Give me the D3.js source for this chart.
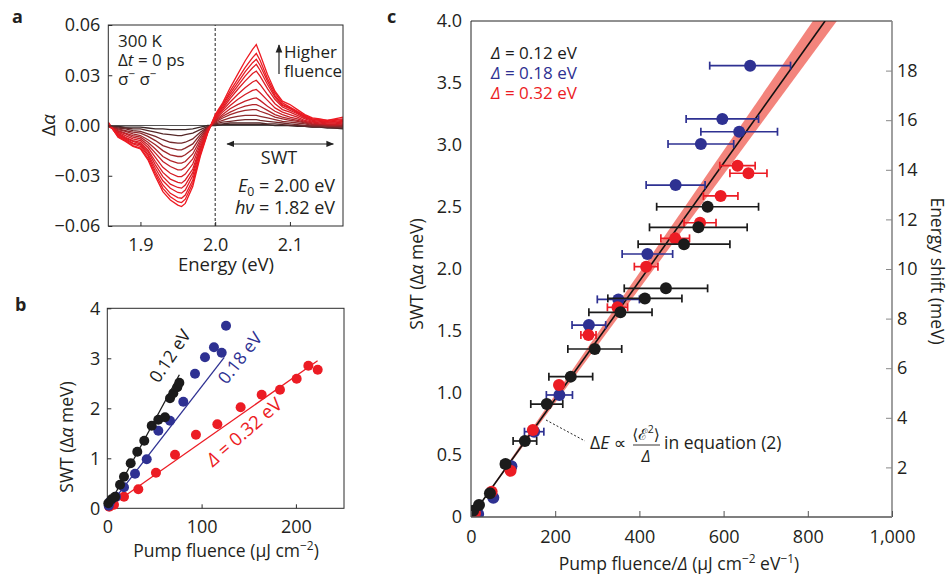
<!DOCTYPE html>
<html><head><meta charset="utf-8">
<script src="https://cdn.jsdelivr.net/npm/d3@7"></script>
<style>
body{margin:0;background:#fff}
svg{display:block}
text{font-family:"Open Sans","Noto Sans","DejaVu Sans",sans-serif;fill:#231f20}
</style></head>
<body><svg id="fig" width="949" height="577"></svg>
<script>
// ---------- DATA ----------
// Panel a: spectra (Δα ×1e-3) vs energy (eV), highest fluence first
const energyA = [1.857,1.87,1.88,1.89,1.90,1.91,1.92,1.93,1.94,1.95,1.955,1.96,1.97,1.98,1.99,2.00,2.01,2.02,2.03,2.04,2.05,2.055,2.06,2.07,2.08,2.09,2.10,2.11,2.12,2.13,2.14,2.15,2.16,2.171];
const spectraMilli = [
 [2,-7,-9.5,-12.5,-14,-20.5,-30.5,-39.5,-44.5,-47.5,-48.4,-46.5,-36.5,-18.5,-4.5,6.5,13.5,22.5,30.5,38.5,45.5,48.3,42.5,30.5,20.5,14.5,12.5,9.5,6.5,4.5,4,3,4,5],
 [1.5,-6.5,-9,-12,-13.5,-19.5,-29,-37.5,-42.5,-45.5,-46,-44,-34.5,-17.5,-4,6,12.5,20.5,27.5,34.5,40.5,43,39,28,19.5,13.5,11,8.5,6,4,3.5,3,3.5,4],
 [1,-6,-8.5,-11,-12.5,-18,-27.5,-35.5,-40.5,-43,-43.4,-41.5,-32.5,-16.5,-4,5.5,12,19,25.5,32,37.5,39.5,36,26.5,18,12.5,10.5,8,5.5,4,3,2.5,3,3.5],
 [0.5,-5.5,-8,-10.5,-11.5,-17,-25.5,-33,-37.5,-40,-40.4,-38.5,-30,-15,-3.5,5,11,17.5,23.5,29.5,34.5,36.5,33,24.5,17,12,10,7.5,5,3.5,3,2,2.5,3],
 [0.5,-5,-7.5,-9.5,-11,-15.5,-23.5,-30.5,-35,-37,-37.4,-35.5,-28,-14,-3.5,4.5,10,16,21.5,26.5,31,32.5,29.5,22,15.5,11,9,7,4.5,3,2.5,2,2,2.5],
 [0,-4.5,-7,-9,-10,-14.5,-21.5,-28,-32,-34,-34.4,-32.5,-26,-13,-3,4,9,14,18.5,22.5,26,27,24.5,18.5,13,9.5,8,6,4,2.5,2,1.5,1.5,2],
 [0,-4,-6,-8,-9,-13,-19,-25,-28.5,-30.5,-30.5,-29,-23,-11.5,-2.5,3.5,8,12,15.5,18.5,21,21.5,19.5,15,10.5,8,6.5,5,3,2,1.5,1,1,1.5],
 [-0.5,-3.5,-5,-7,-8,-11.5,-16.5,-21.5,-24.5,-26.5,-26.5,-25,-20,-10,-2,3,6.5,10,12.5,14.5,16,16.5,15,11.5,8.5,6.5,5,4,2.5,1.5,1,0.5,0.5,1],
 [-0.5,-3,-4.5,-6,-7,-10,-14,-18.5,-21,-22.5,-22.5,-21.5,-17,-8.5,-2,2.5,5.5,8,10,11.5,12.5,12.5,11.5,9,6.5,5,4,3,2,1,0.5,0.5,0,0.5],
 [-0.5,-2.5,-3.5,-5,-6,-8.5,-11.5,-15,-17.5,-18.5,-18.5,-17.5,-14,-7,-1.5,2,4.5,6.5,8,9,9.5,9.5,8.5,7,5,4,3,2.5,1.5,0.5,0.5,0,0,0],
 [-0.5,-2,-3,-4,-4.5,-6.5,-9,-12,-13.5,-14.5,-14.5,-13.5,-11,-5.5,-1,1.5,3,4.5,5.5,6,6,6,5.5,4.5,3.5,2.5,2,1.5,1,0,0,-0.5,-0.5,-0.5],
 [-0.5,-1.5,-2,-3,-3.5,-5,-6.5,-8.5,-10,-10.5,-10.5,-10,-8,-4,-1,1,2,2.5,3,3.5,3.5,3.5,3,2.5,2,1.5,1,0.5,0,-0.5,-0.5,-1,-1,-1],
 [-0.5,-1,-1.5,-2,-2,-3,-4,-5,-5.5,-6,-6,-5.5,-4.5,-2.5,-0.5,0.5,1,1.5,1.5,1.5,1.5,1.5,1.5,1,1,0.5,0,0,-0.5,-1,-1,-1,-1.5,-1.5],
 [-0.5,-0.5,-1,-1,-1,-1.5,-2,-2,-2.5,-2.5,-2.5,-2.5,-2,-1,0,0,0.5,0.5,0.5,0.5,0.5,0.5,0.5,0.5,0,0,0,-0.5,-0.5,-1,-1,-1.5,-1.5,-2]
];
const ticksAy = [-0.06,-0.03,0,0.03,0.06];
const ticksAx = [1.9,2.0,2.1];

// Panel b: SWT (Δα meV) vs pump fluence (μJ cm^-2)
const fluB012 = [1.1,4.6,8.2,13.5,17.7,24.8,31.8,39.2,47.1,54.1,61.2,66.5,70,74.2,76.4];
const swtB012 = [0.10,0.18,0.23,0.47,0.63,0.90,1.13,1.35,1.65,1.77,1.82,2.20,2.30,2.42,2.51];
const fluB018 = [1.5,2.9,9.2,17.7,29.4,41.8,54.1,66.5,80.6,93,103.6,113.1,121.3,125.9];
const swtB018 = [0.05,0.13,0.23,0.42,0.69,0.98,1.55,1.75,2.13,2.69,3.02,3.22,3.11,3.65];
const fluB032 = [2.1,7.1,17.7,32.9,51.6,71.8,94,116.7,141.4,163.7,183.1,200.8,213.2,223.1];
const swtB032 = [0.03,0.07,0.23,0.38,0.71,1.07,1.47,1.68,2.02,2.27,2.37,2.59,2.85,2.77];
const fitB = [ {d:"0.12", x1:76.4, y1:2.67}, {d:"0.18", x1:124, y1:3.02}, {d:"0.32", x1:223, y1:2.95} ];
const ticksBy = [0,1,2,3,4];
const ticksBx = [0,100,200];

// Panel c: SWT vs fluence/Δ (μJ cm^-2 eV^-1), with x error
const xC012 = [5,19,45,82,128,180,237,294,355,413,463,506,540,562];
const yC012 = [0.05,0.097,0.191,0.427,0.613,0.911,1.132,1.355,1.651,1.763,1.844,2.20,2.336,2.502];
const eC012 = [0,0,0,10,28,38,52,64,75,88,99,109,116,121];
const xC018 = [5.5,17,53,96,150,210,280,350,419,486,546,597,637,663];
const yC018 = [0.035,0.024,0.156,0.41,0.688,0.984,1.548,1.755,2.121,2.677,3.008,3.21,3.107,3.64];
const eC018 = [0,0,0,8,23,31,40,50,60,70,78,86,91,96];
const xC032 = [4,9.5,49,94,147,209,279,348,416,485,544,593,633,659];
const yC032 = [0.0,0.03,0.204,0.373,0.702,1.065,1.468,1.691,2.019,2.247,2.373,2.589,2.833,2.772];
const eC032 = [0,0,0,0,0,0,18,24,28,34,38,41,42,44];
const fitSlopeC = 0.004756;           // SWT per (μJ cm^-2 eV^-1)
const bandSlopesC = [0.004603, 0.004926];
const ticksCy = [0,0.5,1,1.5,2,2.5,3,3.5,4];
const ticksCx = [0,200,400,600,800,1000];
const ticksCy2 = [2,4,6,8,10,12,14,16,18];
const legendC = ["0.12","0.18","0.32"];

// ---------- STYLE ----------
const TXT = "#231f20", BLACK = "#1b1b1b", BLUE = "#2e3192", RED = "#ec1c24", BAND = "#f3847c";
const FONT = '"Open Sans","Noto Sans","DejaVu Sans",sans-serif';
const svg = d3.select("#fig");

function rich(sel, parts) {
  parts.forEach(p => {
    const t = sel.append("tspan").text(p.t);
    if (p.it) t.attr("font-style", "italic");
    if (p.sup) t.attr("dy", -7).attr("font-size", "0.68em");
    if (p.sub) t.attr("dy", 4).attr("font-size", "0.68em");
    if (p.back) t.attr("dy", p.back);
  });
  return sel;
}
function styleAxis(g, color, fs) {
  g.attr("font-size", fs || 17.5).attr("font-family", FONT);
  g.select(".domain").remove();
  g.selectAll(".tick line").attr("stroke", color).attr("stroke-width", 1);
  g.selectAll(".tick text").attr("fill", TXT);
}

// ---------- PANEL A ----------
const ax = d3.scaleLinear().domain([1.857, 2.171]).range([108.3, 343]);
const ay = d3.scaleLinear().domain([-0.06, 0.06]).range([226, 25]);
const colA = d3.scaleLinear().domain([0, 6, 10, spectraMilli.length - 1])
  .range(["#ee1a22", "#d61d25", "#8c2a2c", "#3a2828"]).interpolate(d3.interpolateRgb);
svg.append("clipPath").attr("id", "clipA").append("rect")
  .attr("x", ax.range()[0]).attr("y", ay.range()[1])
  .attr("width", ax.range()[1] - ax.range()[0]).attr("height", ay.range()[0] - ay.range()[1]);
const gA = svg.append("g");
gA.append("line").attr("x1", ax.range()[0]).attr("x2", ax.range()[1]).attr("y1", ay(0)).attr("y2", ay(0))
  .attr("stroke", "#555").attr("stroke-width", 1.2);
gA.append("line").attr("x1", ax(2.0)).attr("x2", ax(2.0)).attr("y1", ay.range()[0]).attr("y2", ay.range()[1])
  .attr("stroke", "#222").attr("stroke-width", 1).attr("stroke-dasharray", "3,2");
const lineA = d3.line().x((d, i) => ax(energyA[i])).y(d => ay(d / 1000));
gA.append("g").attr("clip-path", "url(#clipA)").selectAll("path")
  .data(spectraMilli.slice().reverse()).join("path")
  .attr("d", lineA).attr("fill", "none")
  .attr("stroke", (d, i) => colA(spectraMilli.length - 1 - i)).attr("stroke-width", 1.3);
gA.append("rect").attr("x", ax.range()[0]).attr("y", ay.range()[1])
  .attr("width", ax.range()[1] - ax.range()[0]).attr("height", ay.range()[0] - ay.range()[1])
  .attr("fill", "none").attr("stroke", "#2a2a2a").attr("stroke-width", 1);
gA.append("g").attr("transform", `translate(${ax.range()[0]},0)`)
  .call(d3.axisLeft(ay).tickValues(ticksAy).tickFormat(d3.format(".2f")).tickSizeInner(-4).tickSizeOuter(0).tickPadding(8))
  .call(g => styleAxis(g, "#2a2a2a", 18));
gA.append("g").attr("transform", `translate(0,${ay.range()[0]})`)
  .call(d3.axisBottom(ax).tickValues(ticksAx).tickFormat(d3.format(".1f")).tickSizeInner(-4).tickSizeOuter(0).tickPadding(12))
  .call(g => styleAxis(g, "#2a2a2a", 18));
svg.append("text").attr("x", 12).attr("y", 23).attr("font-weight", "bold").attr("font-size", 18).text("a");
rich(svg.append("text").attr("transform", "translate(55,125) rotate(-90)").attr("text-anchor", "middle").attr("font-size", 19),
  [{t:"Δ"},{t:"α", it:true}]);
svg.append("text").attr("x", 226).attr("y", 271).attr("text-anchor", "middle").attr("font-size", 18.5).text("Energy (eV)");
svg.append("text").attr("x", 118).attr("y", 47).attr("font-size", 17).text("300 K");
rich(svg.append("text").attr("x", 118).attr("y", 66).attr("font-size", 17), [{t:"Δ"},{t:"t", it:true},{t:" = 0 ps"}]);
rich(svg.append("text").attr("x", 118).attr("y", 85).attr("font-size", 17), [{t:"σ"},{t:"−", sup:true},{t:" σ", back:7},{t:"−", sup:true}]);
// Higher fluence arrow
svg.append("defs").html(`
 <marker id="ah" viewBox="0 0 10 10" refX="9" refY="5" markerWidth="7" markerHeight="7" orient="auto-start-reverse">
   <path d="M0,1 L10,5 L0,9 z" fill="#222"/></marker>`);
svg.append("line").attr("x1", 279).attr("x2", 279).attr("y1", 74).attr("y2", 45)
  .attr("stroke", "#222").attr("stroke-width", 1.2).attr("marker-end", "url(#ah)");
svg.append("text").attr("x", 284).attr("y", 58).attr("font-size", 17).text("Higher");
svg.append("text").attr("x", 284).attr("y", 77).attr("font-size", 17).text("fluence");
svg.append("line").attr("x1", ax(2.016)).attr("x2", ax(2.158)).attr("y1", ay(-0.011)).attr("y2", ay(-0.011))
  .attr("stroke", "#222").attr("stroke-width", 1.1).attr("marker-start", "url(#ah)").attr("marker-end", "url(#ah)");
svg.append("text").attr("x", 279).attr("y", 164).attr("text-anchor", "middle").attr("font-size", 18).text("SWT");
rich(svg.append("text").attr("x", 335).attr("y", 192).attr("text-anchor", "end").attr("font-size", 18),
  [{t:"E", it:true},{t:"0", sub:true},{t:" = 2.00 eV", back:-4}]);
rich(svg.append("text").attr("x", 335).attr("y", 214).attr("text-anchor", "end").attr("font-size", 18),
  [{t:"hν", it:true},{t:" = 1.82 eV"}]);

// ---------- PANEL B ----------
const bx = d3.scaleLinear().domain([0, 251]).range([107.3, 344]);
const by = d3.scaleLinear().domain([0, 4]).range([508.3, 308.3]);
const gB = svg.append("g");
gB.append("rect").attr("x", bx.range()[0]).attr("y", by.range()[1])
  .attr("width", bx.range()[1] - bx.range()[0]).attr("height", by.range()[0] - by.range()[1])
  .attr("fill", "none").attr("stroke", "#2a2a2a").attr("stroke-width", 1);
gB.append("g").attr("transform", `translate(${bx.range()[0]},0)`)
  .call(d3.axisLeft(by).tickValues(ticksBy).tickFormat(d3.format("d")).tickSizeInner(-4).tickSizeOuter(0).tickPadding(7))
  .call(g => styleAxis(g, "#2a2a2a", 18));
gB.append("g").attr("transform", `translate(0,${by.range()[0]})`)
  .call(d3.axisBottom(bx).tickValues(ticksBx).tickFormat(d3.format("d")).tickSizeInner(-4).tickSizeOuter(0).tickPadding(12))
  .call(g => styleAxis(g, "#2a2a2a", 18));
const seriesB = [
  {x: fluB012, y: swtB012, c: BLACK, f: fitB[0]},
  {x: fluB018, y: swtB018, c: BLUE, f: fitB[1]},
  {x: fluB032, y: swtB032, c: RED, f: fitB[2]}
];
seriesB.forEach(s => {
  gB.append("line").attr("x1", bx(0)).attr("y1", by(0)).attr("x2", bx(s.f.x1)).attr("y2", by(s.f.y1))
    .attr("stroke", s.c).attr("stroke-width", 1.3);
});
[seriesB[2], seriesB[1], seriesB[0]].forEach(s => {
  gB.append("g").selectAll("circle").data(s.x).join("circle")
    .attr("cx", d => bx(d)).attr("cy", (d, i) => by(s.y[i])).attr("r", 5).attr("fill", s.c);
});
svg.append("text").attr("x", 15).attr("y", 311).attr("font-weight", "bold").attr("font-size", 18).text("b");
rich(svg.append("text").attr("transform", "translate(73,437) rotate(-90)").attr("text-anchor", "middle").attr("font-size", 17.5),
  [{t:"SWT ("},{t:"Δ"},{t:"α", it:true},{t:" meV)"}]);
rich(svg.append("text").attr("x", 226).attr("y", 557).attr("text-anchor", "middle").attr("font-size", 17.5),
  [{t:"Pump fluence (μJ cm"},{t:"−2", sup:true},{t:")", back:7}]);
svg.append("text").attr("transform", "translate(170,356) rotate(-56)").attr("text-anchor", "middle").attr("dy", "0.35em")
  .attr("font-size", 17.5).style("fill", BLACK).text("0.12 eV");
svg.append("text").attr("transform", "translate(240,358) rotate(-52)").attr("text-anchor", "middle").attr("dy", "0.35em")
  .attr("font-size", 17.5).style("fill", BLUE).text("0.18 eV");
rich(svg.append("text").attr("transform", "translate(244,432) rotate(-41)").attr("text-anchor", "middle").attr("dy", "0.35em")
  .attr("font-size", 18.5).style("fill", RED), [{t:"Δ", it:true},{t:" = 0.32 eV"}]);

// ---------- PANEL C ----------
const cx = d3.scaleLinear().domain([0, 1000]).range([471, 892]);
const cy = d3.scaleLinear().domain([0, 4]).range([517, 21]);
const cy2 = d3.scaleLinear().domain([0, 20]).range([517, 21]);
svg.append("clipPath").attr("id", "clipC").append("rect")
  .attr("x", cx.range()[0]).attr("y", cy.range()[1])
  .attr("width", cx.range()[1] - cx.range()[0]).attr("height", cy.range()[0] - cy.range()[1]);
const gC = svg.append("g");
const topY = cy.domain()[1];
const gClip = gC.append("g").attr("clip-path", "url(#clipC)");
gClip.append("path")
  .attr("d", d3.line()([[cx(0), cy(0)], [cx(topY / bandSlopesC[1]), cy(topY)], [cx(topY / bandSlopesC[0]), cy(topY)]]) + "Z")
  .attr("fill", BAND);
gClip.append("line").attr("x1", cx(0)).attr("y1", cy(0)).attr("x2", cx(topY / fitSlopeC)).attr("y2", cy(topY))
  .attr("stroke", "#111").attr("stroke-width", 1.6);
const seriesC = [
  {x: xC018, y: yC018, e: eC018, c: BLUE},
  {x: xC032, y: yC032, e: eC032, c: RED},
  {x: xC012, y: yC012, e: eC012, c: BLACK}
];
seriesC.forEach(s => {
  const g = gClip.append("g");
  s.x.forEach((xv, i) => {
    if (s.e[i] > 0) {
      const yv = cy(s.y[i]);
      g.append("line").attr("x1", cx(xv - s.e[i])).attr("x2", cx(xv + s.e[i])).attr("y1", yv).attr("y2", yv)
        .attr("stroke", s.c).attr("stroke-width", 1.7);
      [xv - s.e[i], xv + s.e[i]].forEach(xe => {
        g.append("line").attr("x1", cx(xe)).attr("x2", cx(xe)).attr("y1", yv - 4).attr("y2", yv + 4)
          .attr("stroke", s.c).attr("stroke-width", 1.7);
      });
    }
  });
  g.selectAll("circle").data(s.x).join("circle")
    .attr("cx", d => cx(d)).attr("cy", (d, i) => cy(s.y[i])).attr("r", 6).attr("fill", s.c);
});
// frame
gC.append("line").attr("x1", cx.range()[0]).attr("x2", cx.range()[1]).attr("y1", cy.range()[1]).attr("y2", cy.range()[1]).attr("stroke", "#222");
gC.append("line").attr("x1", cx.range()[0]).attr("x2", cx.range()[0]).attr("y1", cy.range()[0]).attr("y2", cy.range()[1]).attr("stroke", "#222");
gC.append("line").attr("x1", cx.range()[0]).attr("x2", cx.range()[1]).attr("y1", cy.range()[0]).attr("y2", cy.range()[0]).attr("stroke", "#555").attr("stroke-width", 1.3);
gC.append("line").attr("x1", cx.range()[1]).attr("x2", cx.range()[1]).attr("y1", cy.range()[0]).attr("y2", cy.range()[1]).attr("stroke", "#888").attr("stroke-width", 1.6);
gC.append("g").attr("transform", `translate(${cx.range()[0]},0)`)
  .call(d3.axisLeft(cy).tickValues(ticksCy).tickFormat(d => d === 0 ? "0" : d3.format(".1f")(d)).tickSizeInner(0).tickSizeOuter(0).tickPadding(9))
  .call(g => styleAxis(g, "#222", 18));
gC.append("g").attr("transform", `translate(0,${cy.range()[0]})`)
  .call(d3.axisBottom(cx).tickValues(ticksCx).tickFormat(d3.format(",")).tickSizeInner(-6).tickSizeOuter(0).tickPadding(13))
  .call(g => styleAxis(g, "#555", 18));
gC.append("g").attr("transform", `translate(${cx.range()[1]},0)`)
  .call(d3.axisRight(cy2).tickValues(ticksCy2).tickFormat(d3.format("d")).tickSizeInner(-6).tickSizeOuter(0).tickPadding(5))
  .call(g => styleAxis(g, "#888", 18));
svg.append("text").attr("x", 387).attr("y", 23).attr("font-weight", "bold").attr("font-size", 18).text("c");
rich(svg.append("text").attr("transform", "translate(423,274) rotate(-90)").attr("text-anchor", "middle").attr("font-size", 17.5),
  [{t:"SWT ("},{t:"Δ"},{t:"α", it:true},{t:" meV)"}]);
rich(svg.append("text").attr("transform", "translate(931,271) rotate(90)").attr("text-anchor", "middle").attr("font-size", 17.5),
  [{t:"Energy shift (meV)"}]);
rich(svg.append("text").attr("x", 679).attr("y", 570).attr("text-anchor", "middle").attr("font-size", 17.5),
  [{t:"Pump fluence/"},{t:"Δ", it:true},{t:" (μJ cm"},{t:"−2", sup:true},{t:" eV", back:7},{t:"−1", sup:true},{t:")", back:7}]);
[BLACK, BLUE, RED].forEach((c, i) => {
  rich(svg.append("text").attr("x", 491).attr("y", 59 + 20 * i).attr("font-size", 17).style("fill", c),
    [{t:"Δ", it:true},{t:" = " + legendC[i] + " eV"}]);
});
// annotation
svg.append("line").attr("x1", 546).attr("y1", 420).attr("x2", 585).attr("y2", 441)
  .attr("stroke", "#222").attr("stroke-width", 1).attr("stroke-dasharray", "2,2");
rich(svg.append("text").attr("x", 590).attr("y", 449).attr("font-size", 17.5), [{t:"Δ"},{t:"E", it:true},{t:" ∝"}]);
rich(svg.append("text").attr("x", 646).attr("y", 440).attr("text-anchor", "middle").attr("font-size", 15.5),
  [{t:"⟨ℰ"},{t:"2", sup:true},{t:"⟩", back:7}]);
svg.append("line").attr("x1", 633).attr("x2", 660).attr("y1", 445).attr("y2", 445).attr("stroke", "#231f20").attr("stroke-width", 0.9);
svg.append("text").attr("x", 646).attr("y", 462).attr("text-anchor", "middle").attr("font-size", 16).attr("font-style", "italic").text("Δ");
svg.append("text").attr("x", 664).attr("y", 449).attr("font-size", 17.5).text("in equation (2)");
</script></body></html>
